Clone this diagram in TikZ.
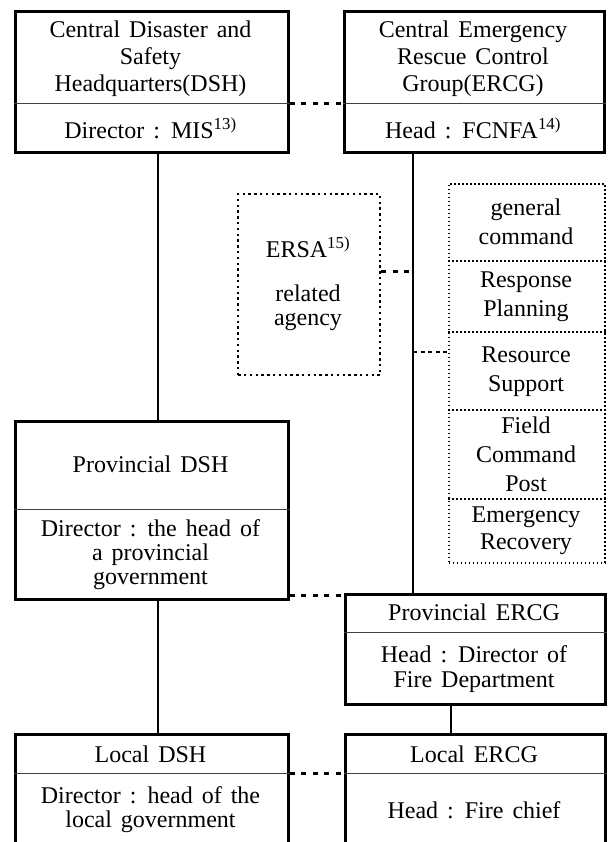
\documentclass[tikz,border=0pt]{standalone}
\usepackage{fontspec}
\setmainfont{Liberation Serif}
\newcommand\setls[1]{\fontsize{24}{#1}\selectfont\spaceskip=9pt plus 3pt minus 1pt\relax}
\begin{document}
\begin{tikzpicture}[x=1pt,y=-1pt,
  solidbox/.style={draw, line width=2.8pt, inner sep=0pt, anchor=north west},
  dotbox/.style={draw, line width=2.2pt, dash pattern=on 2.4pt off 3.4pt, inner sep=0pt, anchor=north west},
  stackbox/.style={draw, line width=1.6pt, dash pattern=on 1.6pt off 2.4pt, inner sep=0pt, anchor=north west},
  divider/.style={line width=1pt, black!75},
  stackdiv/.style={line width=1.4pt, dash pattern=on 1.6pt off 2.4pt},
  vline/.style={line width=2.4pt},
  biglink/.style={line width=3pt, dash pattern=on 5pt off 6.5pt},
  smalllink/.style={line width=2pt, dash pattern=on 4pt off 3.5pt},
  txt/.style={align=center, inner sep=0pt}]
\useasboundingbox (0,0) rectangle (607,842);
\clip (0,0) rectangle (607,842);
% helper coordinates
\coordinate (lx) at (158,0);
\coordinate (rx) at (413,0);
\coordinate (cx) at (451,0);
\coordinate (d1) at (0,104);
\coordinate (d2) at (0,509);
\coordinate (d3) at (0,632);
\coordinate (d4) at (0,773);
\coordinate (s1) at (0,261);
\coordinate (s2) at (0,332);
\coordinate (s3) at (0,410);
\coordinate (s4) at (0,499);
\coordinate (ly1) at (0,271);
\coordinate (ly2) at (0,352);
\coordinate (ly3) at (0,595);
% boxes
\node[solidbox, minimum width=273pt, minimum height=141pt] (dsh) at (14,10) {};
\node[solidbox, minimum width=260pt, minimum height=141pt] (ercg) at (343,10) {};
\node[dotbox, minimum width=142pt, minimum height=181pt] (ersa) at (237,193) {};
\node[stackbox, minimum width=156pt, minimum height=379pt] (stack) at (448,183) {};
\node[solidbox, minimum width=273pt, minimum height=178pt] (pdsh) at (14,420) {};
\node[solidbox, minimum width=260pt, minimum height=110pt] (percg) at (344,593) {};
\node[solidbox, minimum width=273pt, minimum height=127pt] (ldsh) at (14,733) {};
\node[solidbox, minimum width=260pt, minimum height=127pt] (lercg) at (344,733) {};
% dividers
\draw[divider] (dsh.west |- d1) -- (dsh.east |- d1);
\draw[divider] (ercg.west |- d1) -- (ercg.east |- d1);
\draw[divider] (pdsh.west |- d2) -- (pdsh.east |- d2);
\draw[divider] (percg.west |- d3) -- (percg.east |- d3);
\draw[divider] (ldsh.west |- d4) -- (ldsh.east |- d4);
\draw[divider] (lercg.west |- d4) -- (lercg.east |- d4);
\draw[stackdiv] (stack.west |- s1) -- (stack.east |- s1);
\draw[stackdiv] (stack.west |- s2) -- (stack.east |- s2);
\draw[stackdiv] (stack.west |- s3) -- (stack.east |- s3);
\draw[stackdiv] (stack.west |- s4) -- (stack.east |- s4);
% texts
\node[txt, font=\setls{27}] (t1) at (150.5,59) {Central Disaster and\\Safety\\Headquarters(DSH)};
\node[txt, font=\setls{27}] (t2) at (150.5,128) {Director : MIS\textsuperscript{13)}};
\node[txt, font=\setls{27}] (t3) at (473,59) {Central Emergency\\Rescue Control\\Group(ERCG)};
\node[txt, font=\setls{27}] (t4) at (473,128) {Head : FCNFA\textsuperscript{14)}};
\node[txt, font=\setls{24}] (t5) at (308,247) {ERSA\textsuperscript{15)}};
\node[txt, font=\setls{24}] (t6) at (308,308) {related\\agency};
\node[txt, font=\setls{29}] (c1) at (526,222) {general\\command};
\node[txt, font=\setls{29}] (c2) at (526,297) {Response\\Planning};
\node[txt, font=\setls{29}] (c3) at (526,372) {Resource\\Support};
\node[txt, font=\setls{29}] (c4) at (526,454) {Field\\Command\\Post};
\node[txt, font=\setls{27}] (c5) at (526,531) {Emergency\\Recovery};
\node[txt, font=\setls{24}] (t7) at (150.5,464) {Provincial DSH};
\node[txt, font=\setls{24}] (t8) at (150.5,555) {Director : the head of\\a provincial\\government};
\node[txt, font=\setls{25}] (t9) at (474,612) {Provincial ERCG};
\node[txt, font=\setls{25}] (t10) at (474,669) {Head : Director of\\Fire Department};
\node[txt, font=\setls{24}] (t11) at (150.5,754) {Local DSH};
\node[txt, font=\setls{24}] (t12) at (150.5,810) {Director : head of the\\local government};
\node[txt, font=\setls{24}] (t13) at (474,754) {Local ERCG};
\node[txt, font=\setls{24}] (t14) at (474,810) {Head : Fire chief};
% vertical connectors
\draw[vline] (dsh.south -| lx) -- (pdsh.north -| lx);
\draw[vline] (pdsh.south -| lx) -- (ldsh.north -| lx);
\draw[vline] (ercg.south -| rx) -- (percg.north -| rx);
\draw[vline] (percg.south -| cx) -- (lercg.north -| cx);
% dotted links
\draw[biglink] (dsh.east |- d1) -- (ercg.west |- d1);
\draw[biglink] (pdsh.east |- ly3) -- (percg.west |- ly3);
\draw[biglink] (ldsh.east |- d4) -- (lercg.west |- d4);
\draw[biglink] (ersa.east |- ly1) -- (rx |- ly1);
\draw[smalllink] (rx |- ly2) -- (stack.west |- ly2);
\end{tikzpicture}
\end{document}
